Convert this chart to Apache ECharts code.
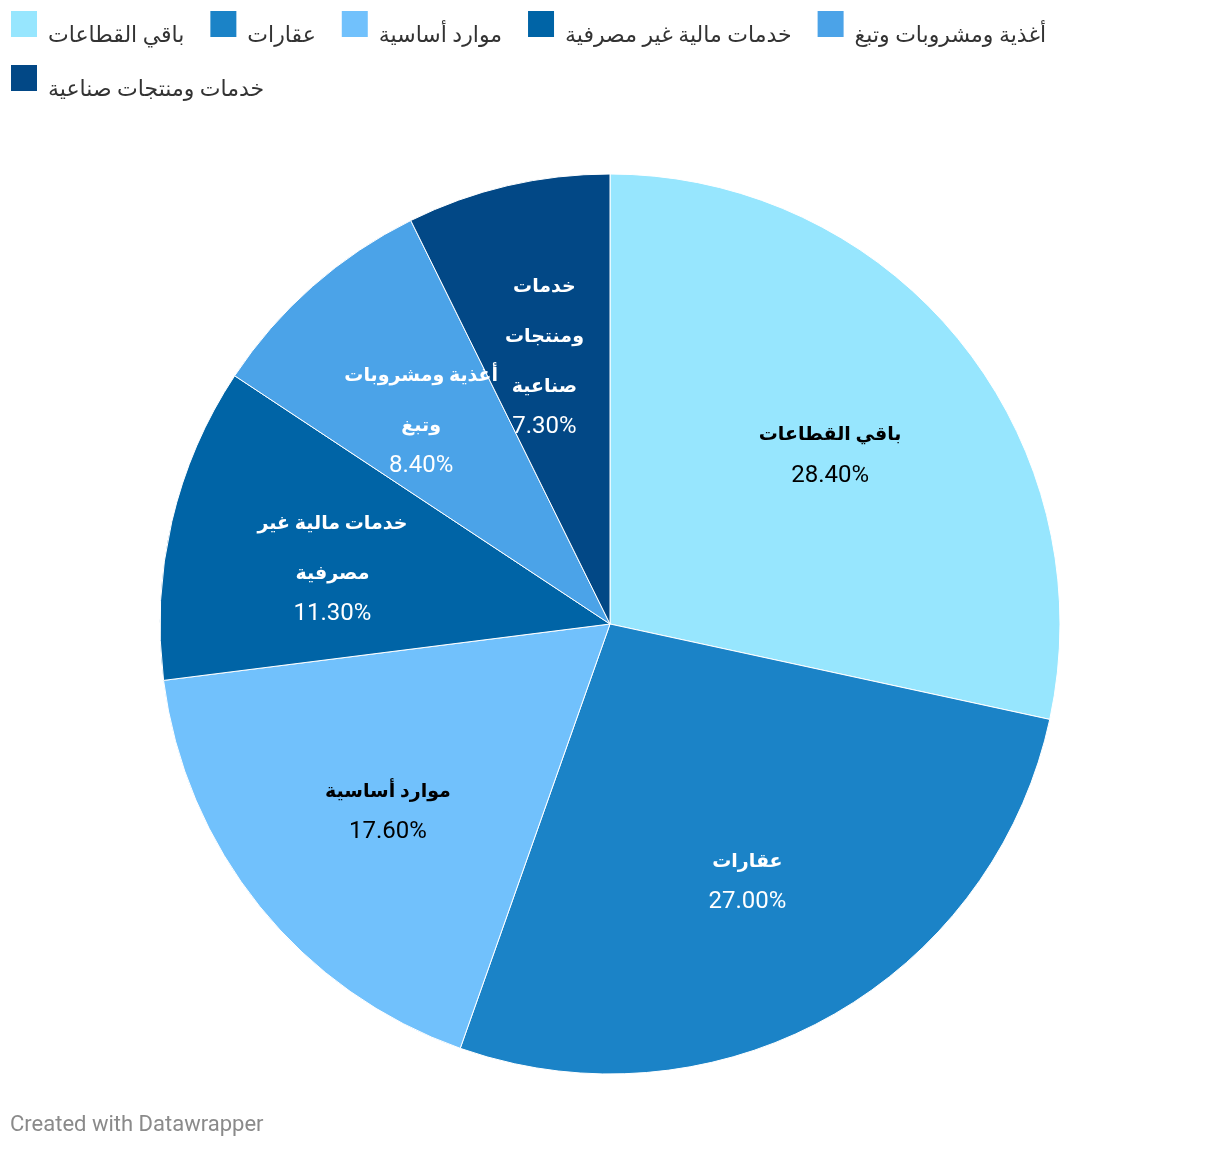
<!DOCTYPE html>
<html>
<head>
<meta charset="utf-8">
<script src="https://cdn.jsdelivr.net/npm/echarts@6/dist/echarts.min.js"></script>
<style>html,body{margin:0;padding:0;background:#fff}#c{width:1220px;height:1150px}</style>
</head>
<body>
<div id="c"></div>
<script>
var categories = ['باقي القطاعات', 'عقارات', 'موارد أساسية', 'خدمات مالية غير مصرفية', 'أغذية ومشروبات وتبغ', 'خدمات ومنتجات صناعية'];
var values = [28.4, 27.0, 17.6, 11.3, 8.4, 7.3];
var labelLines = [['باقي القطاعات'], ['عقارات'], ['موارد أساسية'], ['خدمات مالية غير', 'مصرفية'], ['أغذية ومشروبات', 'وتبغ'], ['خدمات', 'ومنتجات', 'صناعية']];
var colors = ['#97e6fe', '#1b83c7', '#71c1fc', '#0064a6', '#4ba3e8', '#024886'];
var labelColors = ['#000000', '#ffffff', '#000000', '#ffffff', '#ffffff', '#ffffff'];
var footer = 'Created with Datawrapper';

var FONT = 'Roboto, "Noto Sans", "DejaVu Sans", sans-serif';
var chart = echarts.init(document.getElementById('c'), null, {renderer: 'canvas'});

var visData = categories.map(function (n, i) {
  return {name: n, value: values[i], itemStyle: {color: colors[i]}};
});
var lblData = categories.map(function (n, i) {
  return {
    name: n, value: values[i],
    label: {
      rich: {
        n: {fontFamily: FONT, fontSize: 19, fontWeight: 'bold', color: labelColors[i], lineHeight: 50, align: 'center'},
        p: {fontFamily: FONT, fontSize: 24, color: labelColors[i], lineHeight: 30, align: 'center'}
      }
    }
  };
});

var legendBase = {
  orient: 'horizontal', icon: 'rect', itemWidth: 28, itemHeight: 28, itemGap: 24,
  selectedMode: false, padding: 0,
  formatter: '{a|{name}}',
  textStyle: {
    fontFamily: FONT, fontSize: 22, color: '#333',
    rich: {a: {fontFamily: FONT, fontSize: 22, color: '#333', padding: [24, 0, 0, 5]}}
  }
};

chart.setOption({
  animation: false,
  color: colors,
  title: {
    text: footer, left: 10, top: 1114, padding: 0,
    textStyle: {fontFamily: FONT, fontSize: 22, fontWeight: 'normal', color: '#8a8a8a'}
  },
  legend: [
    Object.assign({}, legendBase, {left: 9, top: 9, data: categories.slice(0, 5)}),
    Object.assign({}, legendBase, {left: 9, top: 63, data: categories.slice(5)})
  ],
  series: [
    {
      type: 'pie', center: [610, 624], radius: [0, 450], startAngle: 90, clockwise: true,
      silent: true, data: visData,
      itemStyle: {borderColor: '#ffffff', borderWidth: 1},
      label: {show: false}, labelLine: {show: false}, z: 2
    },
    {
      type: 'pie', center: [609, 629], radius: [0, 562], startAngle: 90, clockwise: true,
      silent: true, data: lblData, z: 3, avoidLabelOverlap: false,
      itemStyle: {color: 'rgba(0,0,0,0)', borderWidth: 0},
      labelLine: {show: false},
      labelLayout: {hideOverlap: false},
      label: {
        show: true, position: 'inside', align: 'center',
        formatter: function (p) {
          var lines = labelLines[p.dataIndex].map(function (t) { return '{n|' + t + '}'; });
          lines.push('{p|' + p.value.toFixed(2) + '%}');
          return lines.join('\n');
        }
      }
    }
  ]
});
</script>
</body>
</html>
